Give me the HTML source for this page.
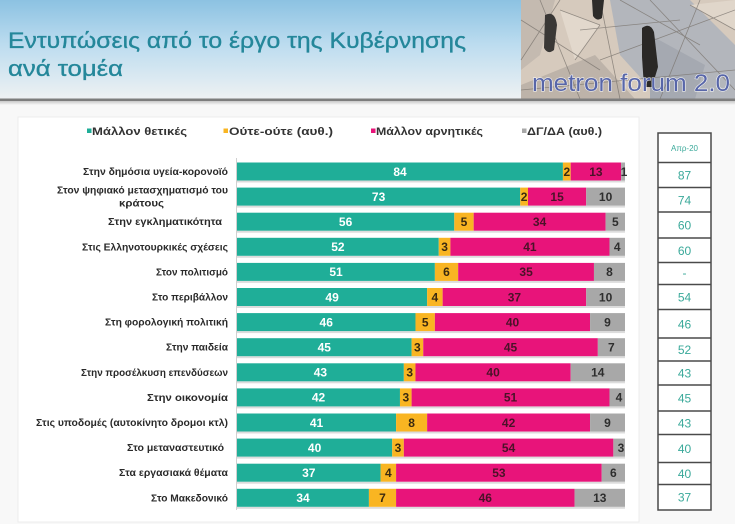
<!DOCTYPE html>
<html><head><meta charset="utf-8"><style>
html,body{margin:0;padding:0;background:#f8f8f8;}
svg{display:block;font-family:"Liberation Sans","DejaVu Sans",sans-serif;}
</style></head><body>
<svg width="735" height="524" viewBox="0 0 735 524" xmlns="http://www.w3.org/2000/svg">
<defs>
<linearGradient id="hdr" x1="0" y1="0" x2="0" y2="1">
<stop offset="0" stop-color="#8cc2e2"/>
<stop offset="0.45" stop-color="#bcdcef"/>
<stop offset="1" stop-color="#eef1f3"/>
</linearGradient>
<linearGradient id="sh" x1="0" y1="0" x2="0" y2="1">
<stop offset="0" stop-color="#c8c8c8"/>
<stop offset="1" stop-color="#f8f8f8"/>
</linearGradient>
</defs>
<rect x="0" y="0" width="735" height="524" fill="#f8f8f8"/>
<!-- header -->
<rect x="0" y="0" width="735" height="99" fill="url(#hdr)"/>
<!-- photo -->
<g>
<rect x="521" y="0" width="214" height="99" fill="#d6cabd"/>
<polygon points="610,0 690,0 735,45 735,99 660,99 620,55" fill="#b3b6bc"/>
<polygon points="521,0 555,0 540,55 521,70" fill="#c4bab0"/>
<polygon points="650,35 705,65 695,99 650,99" fill="#a5a9b1"/>
<polygon points="521,85 595,55 635,99 521,99" fill="#bdb3a9"/>
<polygon points="560,10 600,25 575,60" fill="#e2d8cc"/>
<polygon points="690,5 735,0 735,30" fill="#e0d6ca"/>
<g stroke="#7a746e" stroke-width="0.8" fill="none" opacity="0.75">
<line x1="521" y1="20" x2="600" y2="70"/>
<line x1="540" y1="0" x2="580" y2="99"/>
<line x1="560" y1="0" x2="521" y2="60"/>
<line x1="600" y1="0" x2="620" y2="99"/>
<line x1="650" y1="0" x2="735" y2="90"/>
<line x1="700" y1="0" x2="660" y2="99"/>
<line x1="735" y1="10" x2="600" y2="60"/>
<line x1="521" y1="90" x2="735" y2="70"/>
<line x1="580" y1="30" x2="680" y2="20"/>
<line x1="560" y1="10" x2="600" y2="25"/>
<line x1="600" y1="25" x2="575" y2="60"/>
<line x1="690" y1="5" x2="735" y2="30"/>
<line x1="620" y1="0" x2="700" y2="45"/>
</g>
<path d="M545,15 q10,-5 12,10 l-3,25 q-6,5 -10,-2 z" fill="#3a3836"/>
<path d="M592,0 l12,0 l-2,18 q-5,4 -9,-2 z" fill="#2e2c2a"/>
<path d="M642,28 q8,-6 12,4 l4,35 l-6,20 l-8,0 l-2,-30 z" fill="#2a2826"/>
<text x="532" y="91" font-size="24" fill="#5866a8" stroke="#ffffff" stroke-width="1" paint-order="stroke" textLength="198" lengthAdjust="spacingAndGlyphs">metron forum 2.0</text>
</g>
<!-- header bottom line -->
<rect x="0" y="98.5" width="735" height="2.5" fill="#7d7d7d"/>
<rect x="0" y="101" width="735" height="4" fill="url(#sh)"/>
<!-- title -->
<text x="8" y="48" font-size="22" fill="#24879a" stroke="#24879a" stroke-width="0.35" textLength="458" lengthAdjust="spacingAndGlyphs">Εντυπώσεις από το έργο της Κυβέρνησης</text>
<text x="8" y="76" font-size="22" fill="#24879a" stroke="#24879a" stroke-width="0.35" textLength="115" lengthAdjust="spacingAndGlyphs">ανά τομέα</text>

<!-- panel -->
<rect x="18" y="117" width="621" height="405" fill="#ffffff" stroke="#ececec" stroke-width="1"/>

<!-- legend -->
<g font-size="11" font-weight="bold" fill="#333333">
<rect x="87" y="128.5" width="4.5" height="4.5" fill="#1fae98"/>
<text x="92" y="135" textLength="95" lengthAdjust="spacingAndGlyphs">Μάλλον θετικές</text>
<rect x="223.5" y="128.5" width="4.5" height="4.5" fill="#f9b522"/>
<text x="229" y="135" textLength="104" lengthAdjust="spacingAndGlyphs">Ούτε-ούτε  (αυθ.)</text>
<rect x="371" y="128.5" width="4.5" height="4.5" fill="#e8147a"/>
<text x="376" y="135" textLength="107" lengthAdjust="spacingAndGlyphs">Μάλλον αρνητικές</text>
<rect x="522" y="128.5" width="4.5" height="4.5" fill="#a8a8a8"/>
<text x="527" y="135" textLength="75" lengthAdjust="spacingAndGlyphs">ΔΓ/ΔΑ (αυθ.)</text>
</g>

<!-- axis line -->
<line x1="236.5" y1="158" x2="236.5" y2="510" stroke="#d0d0d0" stroke-width="1"/>

<!-- row labels -->
<g font-size="10" font-weight="bold" fill="#2a2a2a" text-anchor="end">
<text x="228" y="175" textLength="145" lengthAdjust="spacingAndGlyphs">Στην δημόσια υγεία-κορονοϊό</text>
<text x="228" y="193.5" textLength="171" lengthAdjust="spacingAndGlyphs">Στον ψηφιακό μετασχηματισμό του</text>
<text x="164" y="206.5" textLength="45" lengthAdjust="spacingAndGlyphs">κράτους</text>
<text x="222" y="225.2" textLength="114" lengthAdjust="spacingAndGlyphs">Στην εγκληματικότητα</text>
<text x="228" y="250.3" textLength="146" lengthAdjust="spacingAndGlyphs">Στις Ελληνοτουρκικές σχέσεις</text>
<text x="228" y="275.4" textLength="72" lengthAdjust="spacingAndGlyphs">Στον πολιτισμό</text>
<text x="228" y="300.5" textLength="76" lengthAdjust="spacingAndGlyphs">Στο περιβάλλον</text>
<text x="228" y="325.6" textLength="123" lengthAdjust="spacingAndGlyphs">Στη φορολογική πολιτική</text>
<text x="228" y="350.7" textLength="62" lengthAdjust="spacingAndGlyphs">Στην παιδεία</text>
<text x="228" y="375.8" textLength="147" lengthAdjust="spacingAndGlyphs">Στην προσέλκυση επενδύσεων</text>
<text x="228" y="400.9" textLength="81" lengthAdjust="spacingAndGlyphs">Στην οικονομία</text>
<text x="228" y="426" textLength="192" lengthAdjust="spacingAndGlyphs">Στις υποδομές (αυτοκίνητο δρομοι κτλ)</text>
<text x="224" y="451.1" textLength="97" lengthAdjust="spacingAndGlyphs">Στο μεταναστευτικό</text>
<text x="228" y="476.2" textLength="109" lengthAdjust="spacingAndGlyphs">Στα εργασιακά θέματα</text>
<text x="228" y="501.3" textLength="77" lengthAdjust="spacingAndGlyphs">Στο Μακεδονικό</text>
</g>

<!-- bars -->
<g>
<g fill="#dcdcdc">
<rect x="237" y="180.5" width="388" height="2"/>
<rect x="237" y="205.6" width="388" height="2"/>
<rect x="237" y="230.7" width="388" height="2"/>
<rect x="237" y="255.8" width="388" height="2"/>
<rect x="237" y="280.9" width="388" height="2"/>
<rect x="237" y="306" width="388" height="2"/>
<rect x="237" y="331.1" width="388" height="2"/>
<rect x="237" y="356.2" width="388" height="2"/>
<rect x="237" y="381.3" width="388" height="2"/>
<rect x="237" y="406.4" width="388" height="2"/>
<rect x="237" y="431.5" width="388" height="2"/>
<rect x="237" y="456.6" width="388" height="2"/>
<rect x="237" y="481.7" width="388" height="2"/>
<rect x="237" y="506.8" width="388" height="2"/>
</g>

<g transform="translate(0,162.5)">
<rect x="237" y="0" width="325.92" height="18" fill="#1fae98"/>
<rect x="562.92" y="0" width="7.76" height="18" fill="#f9b522"/>
<rect x="570.68" y="0" width="50.44" height="18" fill="#e8147a"/>
<rect x="621.12" y="0" width="3.88" height="18" fill="#a8a8a8"/>
</g>
<g transform="translate(0,187.6)">
<rect x="237" y="0" width="283.24" height="18" fill="#1fae98"/>
<rect x="520.24" y="0" width="7.76" height="18" fill="#f9b522"/>
<rect x="528" y="0" width="58.2" height="18" fill="#e8147a"/>
<rect x="586.2" y="0" width="38.8" height="18" fill="#a8a8a8"/>
</g>
<g transform="translate(0,212.7)">
<rect x="237" y="0" width="217.28" height="18" fill="#1fae98"/>
<rect x="454.28" y="0" width="19.4" height="18" fill="#f9b522"/>
<rect x="473.68" y="0" width="131.92" height="18" fill="#e8147a"/>
<rect x="605.6" y="0" width="19.4" height="18" fill="#a8a8a8"/>
</g>
<g transform="translate(0,237.8)">
<rect x="237" y="0" width="201.76" height="18" fill="#1fae98"/>
<rect x="438.76" y="0" width="11.64" height="18" fill="#f9b522"/>
<rect x="450.4" y="0" width="159.08" height="18" fill="#e8147a"/>
<rect x="609.48" y="0" width="15.52" height="18" fill="#a8a8a8"/>
</g>
<g transform="translate(0,262.9)">
<rect x="237" y="0" width="197.88" height="18" fill="#1fae98"/>
<rect x="434.88" y="0" width="23.28" height="18" fill="#f9b522"/>
<rect x="458.16" y="0" width="135.8" height="18" fill="#e8147a"/>
<rect x="593.96" y="0" width="31.04" height="18" fill="#a8a8a8"/>
</g>
<g transform="translate(0,288)">
<rect x="237" y="0" width="190.12" height="18" fill="#1fae98"/>
<rect x="427.12" y="0" width="15.52" height="18" fill="#f9b522"/>
<rect x="442.64" y="0" width="143.56" height="18" fill="#e8147a"/>
<rect x="586.2" y="0" width="38.8" height="18" fill="#a8a8a8"/>
</g>
<g transform="translate(0,313.1)">
<rect x="237" y="0" width="178.48" height="18" fill="#1fae98"/>
<rect x="415.48" y="0" width="19.4" height="18" fill="#f9b522"/>
<rect x="434.88" y="0" width="155.2" height="18" fill="#e8147a"/>
<rect x="590.08" y="0" width="34.92" height="18" fill="#a8a8a8"/>
</g>
<g transform="translate(0,338.2)">
<rect x="237" y="0" width="174.6" height="18" fill="#1fae98"/>
<rect x="411.6" y="0" width="11.64" height="18" fill="#f9b522"/>
<rect x="423.24" y="0" width="174.6" height="18" fill="#e8147a"/>
<rect x="597.84" y="0" width="27.16" height="18" fill="#a8a8a8"/>
</g>
<g transform="translate(0,363.3)">
<rect x="237" y="0" width="166.84" height="18" fill="#1fae98"/>
<rect x="403.84" y="0" width="11.64" height="18" fill="#f9b522"/>
<rect x="415.48" y="0" width="155.2" height="18" fill="#e8147a"/>
<rect x="570.68" y="0" width="54.32" height="18" fill="#a8a8a8"/>
</g>
<g transform="translate(0,388.4)">
<rect x="237" y="0" width="162.96" height="18" fill="#1fae98"/>
<rect x="399.96" y="0" width="11.64" height="18" fill="#f9b522"/>
<rect x="411.6" y="0" width="197.88" height="18" fill="#e8147a"/>
<rect x="609.48" y="0" width="15.52" height="18" fill="#a8a8a8"/>
</g>
<g transform="translate(0,413.5)">
<rect x="237" y="0" width="159.08" height="18" fill="#1fae98"/>
<rect x="396.08" y="0" width="31.04" height="18" fill="#f9b522"/>
<rect x="427.12" y="0" width="162.96" height="18" fill="#e8147a"/>
<rect x="590.08" y="0" width="34.92" height="18" fill="#a8a8a8"/>
</g>
<g transform="translate(0,438.6)">
<rect x="237" y="0" width="155.2" height="18" fill="#1fae98"/>
<rect x="392.2" y="0" width="11.64" height="18" fill="#f9b522"/>
<rect x="403.84" y="0" width="209.52" height="18" fill="#e8147a"/>
<rect x="613.36" y="0" width="11.64" height="18" fill="#a8a8a8"/>
</g>
<g transform="translate(0,463.7)">
<rect x="237" y="0" width="143.56" height="18" fill="#1fae98"/>
<rect x="380.56" y="0" width="15.52" height="18" fill="#f9b522"/>
<rect x="396.08" y="0" width="205.64" height="18" fill="#e8147a"/>
<rect x="601.72" y="0" width="23.28" height="18" fill="#a8a8a8"/>
</g>
<g transform="translate(0,488.8)">
<rect x="237" y="0" width="131.92" height="18" fill="#1fae98"/>
<rect x="368.92" y="0" width="27.16" height="18" fill="#f9b522"/>
<rect x="396.08" y="0" width="178.48" height="18" fill="#e8147a"/>
<rect x="574.56" y="0" width="50.44" height="18" fill="#a8a8a8"/>
</g>
</g>

<!-- bar value labels -->
<g font-size="12" font-weight="bold" text-anchor="middle">
<g fill="#ffffff">
<text x="400" y="175.8">84</text>
<text x="378.6" y="200.9">73</text>
<text x="345.6" y="226">56</text>
<text x="337.9" y="251.1">52</text>
<text x="336" y="276.2">51</text>
<text x="332.1" y="301.3">49</text>
<text x="326.2" y="326.4">46</text>
<text x="324.3" y="351.5">45</text>
<text x="320.4" y="376.6">43</text>
<text x="318.5" y="401.7">42</text>
<text x="316.5" y="426.8">41</text>
<text x="314.6" y="451.9">40</text>
<text x="308.8" y="477">37</text>
<text x="303" y="502.1">34</text>
</g>
<g fill="#3a2a10">
<text x="566.8" y="175.8">2</text>
<text x="524.1" y="200.9">2</text>
<text x="464" y="226">5</text>
<text x="444.6" y="251.1">3</text>
<text x="446.5" y="276.2">6</text>
<text x="434.9" y="301.3">4</text>
<text x="425.2" y="326.4">5</text>
<text x="417.4" y="351.5">3</text>
<text x="409.7" y="376.6">3</text>
<text x="405.8" y="401.7">3</text>
<text x="411.6" y="426.8">8</text>
<text x="398" y="451.9">3</text>
<text x="388.3" y="477">4</text>
<text x="382.5" y="502.1">7</text>
</g>
<g fill="#4a1228">
<text x="595.9" y="175.8">13</text>
<text x="557.1" y="200.9">15</text>
<text x="539.6" y="226">34</text>
<text x="529.9" y="251.1">41</text>
<text x="526.1" y="276.2">35</text>
<text x="514.4" y="301.3">37</text>
<text x="512.5" y="326.4">40</text>
<text x="510.5" y="351.5">45</text>
<text x="493.1" y="376.6">40</text>
<text x="510.5" y="401.7">51</text>
<text x="508.6" y="426.8">42</text>
<text x="508.6" y="451.9">54</text>
<text x="498.9" y="477">53</text>
<text x="485.3" y="502.1">46</text>
</g>
<g fill="#2e2e2e">
<text x="624" y="175.8">1</text>
<text x="605.6" y="200.9">10</text>
<text x="615.3" y="226">5</text>
<text x="617.2" y="251.1">4</text>
<text x="609.5" y="276.2">8</text>
<text x="605.6" y="301.3">10</text>
<text x="607.5" y="326.4">9</text>
<text x="611.4" y="351.5">7</text>
<text x="597.8" y="376.6">14</text>
<text x="619" y="401.7">4</text>
<text x="607.5" y="426.8">9</text>
<text x="621" y="451.9">3</text>
<text x="613.4" y="477">6</text>
<text x="599.8" y="502.1">13</text>
</g>
</g>

<!-- right table -->
<g>
<rect x="658" y="133" width="53" height="377" fill="#ffffff" stroke="#4a4a4a" stroke-width="1.5"/>
<g stroke="#4a4a4a" stroke-width="1.5">
<line x1="658" y1="162.5" x2="711" y2="162.5"/>
<line x1="658" y1="187.5" x2="711" y2="187.5"/>
<line x1="658" y1="212" x2="711" y2="212"/>
<line x1="658" y1="238" x2="711" y2="238"/>
<line x1="658" y1="262.5" x2="711" y2="262.5"/>
<line x1="658" y1="284.5" x2="711" y2="284.5"/>
<line x1="658" y1="309.5" x2="711" y2="309.5"/>
<line x1="658" y1="338" x2="711" y2="338"/>
<line x1="658" y1="361" x2="711" y2="361"/>
<line x1="658" y1="385" x2="711" y2="385"/>
<line x1="658" y1="411" x2="711" y2="411"/>
<line x1="658" y1="434.5" x2="711" y2="434.5"/>
<line x1="658" y1="462.5" x2="711" y2="462.5"/>
<line x1="658" y1="484.5" x2="711" y2="484.5"/>
</g>
<g fill="#3aa99a" text-anchor="middle" font-size="12">
<text x="684.5" y="151" font-size="8">Απρ-20</text>
<text x="684.5" y="179.5">87</text>
<text x="684.5" y="204.5">74</text>
<text x="684.5" y="229.5">60</text>
<text x="684.5" y="255">60</text>
<text x="684.5" y="277">-</text>
<text x="684.5" y="301.5">54</text>
<text x="684.5" y="328.5">46</text>
<text x="684.5" y="354">52</text>
<text x="684.5" y="377.5">43</text>
<text x="684.5" y="402.5">45</text>
<text x="684.5" y="427.5">43</text>
<text x="684.5" y="453">40</text>
<text x="684.5" y="478">40</text>
<text x="684.5" y="501.5">37</text>
</g>
</g>
</svg>
</body></html>
